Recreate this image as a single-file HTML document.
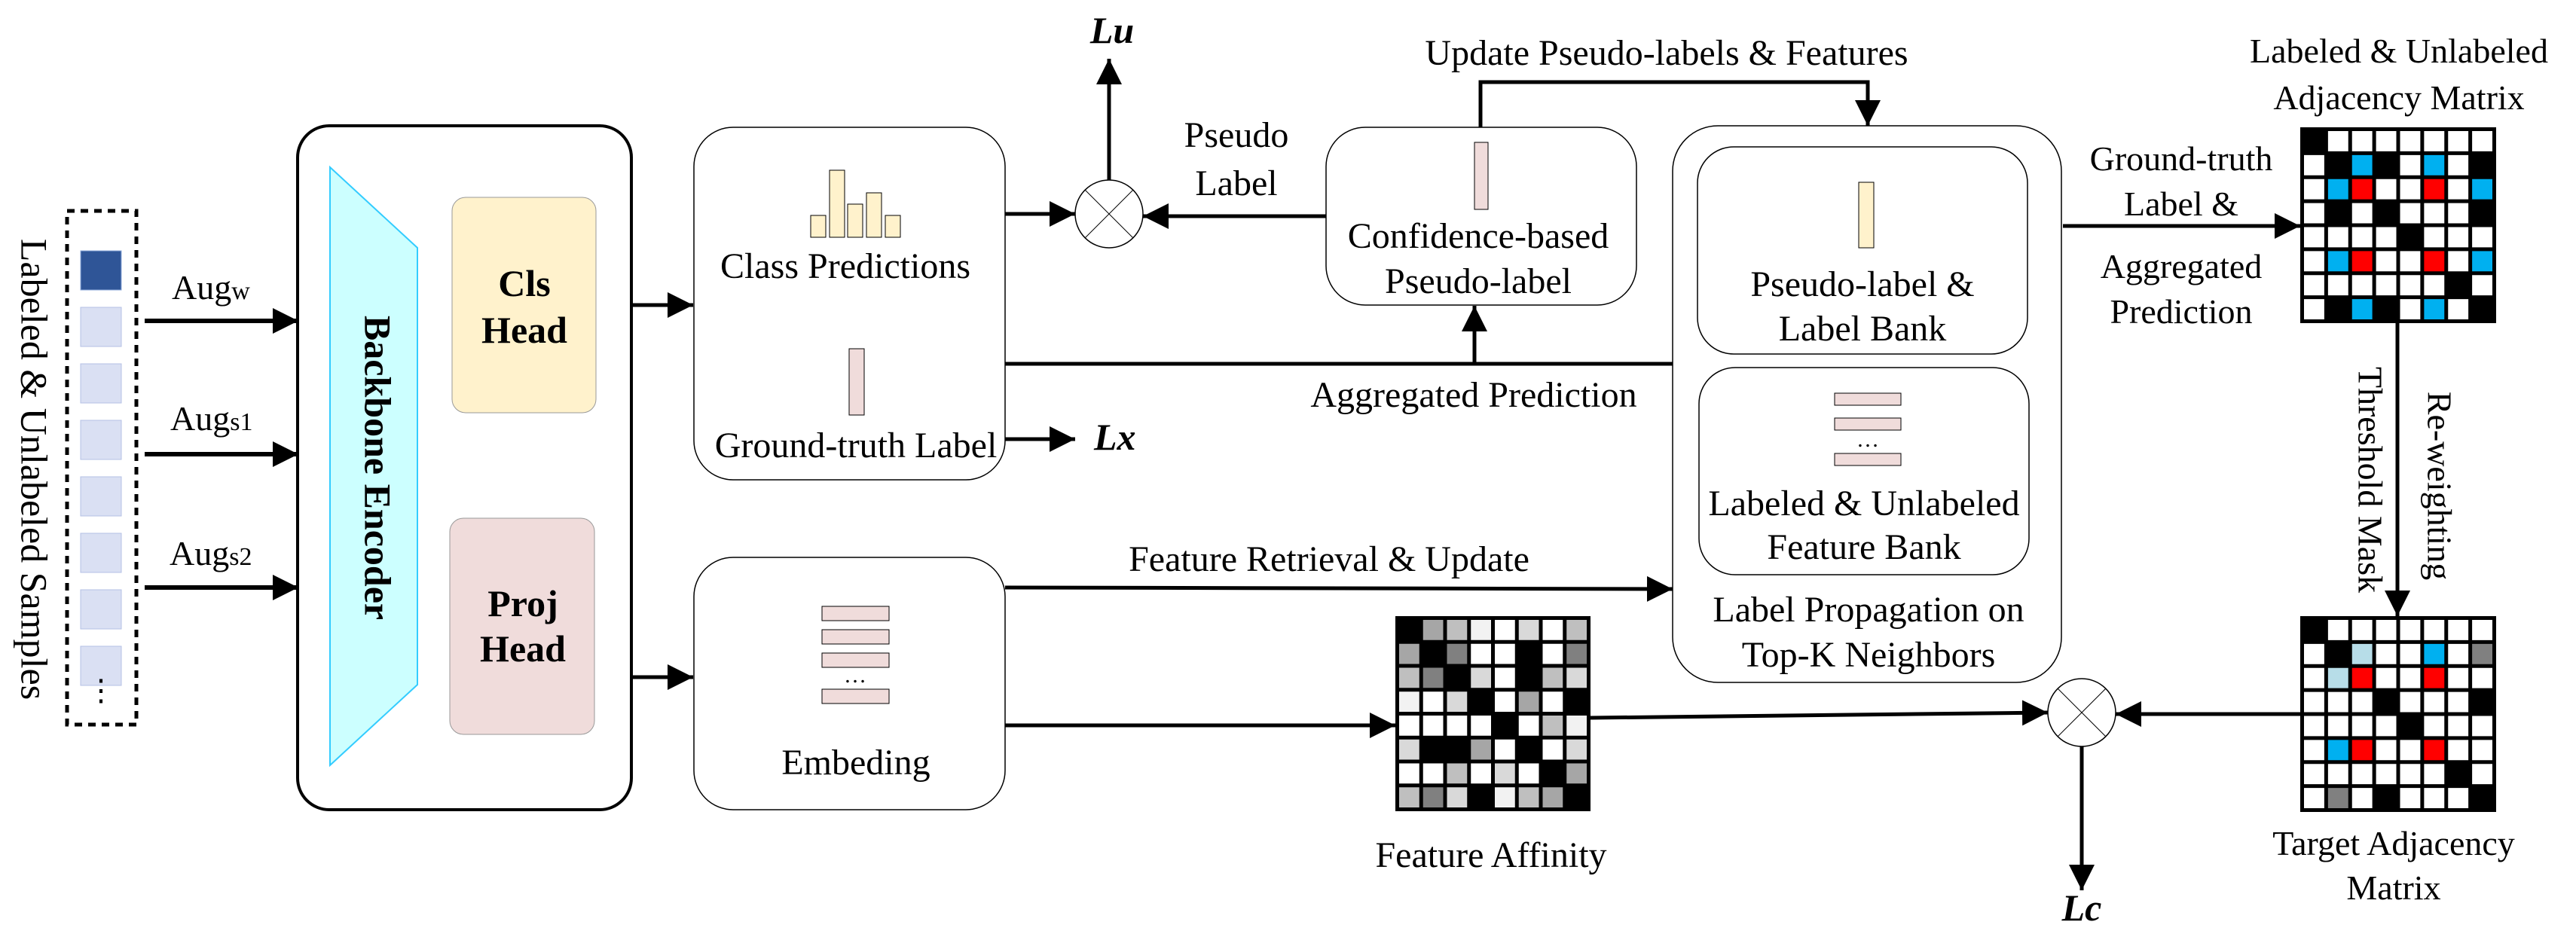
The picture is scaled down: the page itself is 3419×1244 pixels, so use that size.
<!DOCTYPE html>
<html><head><meta charset="utf-8"><style>
html,body{margin:0;padding:0;background:#fff;}
svg{display:block;}
svg text{font-family:'Liberation Serif','Times New Roman',Times,serif !important;fill:#000;}
</style></head><body>
<svg width="3419" height="1244" viewBox="0 0 3419 1244" xmlns="http://www.w3.org/2000/svg" font-family="'Liberation Serif', 'Times New Roman', serif">
<defs>
<marker id="ah" markerUnits="userSpaceOnUse" markerWidth="36" markerHeight="36" refX="34" refY="17" orient="auto">
<path d="M0,0 L34,17 L0,34 Z" fill="#000"/>
</marker>
</defs>
<rect width="3419" height="1244" fill="#fff"/>

<!-- left samples -->
<text transform="translate(40,623) rotate(90)" font-size="50" text-anchor="middle" dominant-baseline="middle">Labeled &amp; Unlabeled Samples</text>
<rect x="89" y="280" width="92" height="682" fill="none" stroke="#000" stroke-width="5" stroke-dasharray="10,8"/>
<rect x="107" y="333" width="54" height="52" fill="#2f5597" stroke="#8eaadb" stroke-width="1"/>
<g fill="#dae0f3" stroke="#b4c0e4" stroke-width="1">
<rect x="107" y="408" width="54" height="52"/>
<rect x="107" y="483" width="54" height="52"/>
<rect x="107" y="558" width="54" height="52"/>
<rect x="107" y="633" width="54" height="52"/>
<rect x="107" y="708" width="54" height="52"/>
<rect x="107" y="783" width="54" height="52"/>
<rect x="107" y="858" width="54" height="52"/>
</g>
<text x="134" y="930" font-size="40" text-anchor="middle">⋮</text>

<!-- aug arrows -->
<g stroke="#000" stroke-width="6" marker-end="url(#ah)">
<line x1="192" y1="426" x2="396" y2="426"/>
<line x1="192" y1="603" x2="396" y2="603"/>
<line x1="192" y1="780" x2="396" y2="780"/>
</g>
<text x="228" y="397" font-size="46">Aug<tspan font-size="34">w</tspan></text>
<text x="226" y="571" font-size="46">Aug<tspan font-size="34">s1</tspan></text>
<text x="225" y="750" font-size="46">Aug<tspan font-size="34">s2</tspan></text>

<!-- backbone -->
<rect x="395" y="167" width="443" height="908" rx="42" fill="#fff" stroke="#000" stroke-width="4"/>
<polygon points="438,222 554,329 554,909 438,1016" fill="#ccffff" stroke="#33ccff" stroke-width="2"/>
<text transform="translate(496,621) rotate(90)" font-size="50" font-weight="bold" text-anchor="middle" dominant-baseline="middle">Backbone Encoder</text>
<rect x="600" y="262" width="191" height="286" rx="18" fill="#fff2cc" stroke="#999" stroke-width="1"/>
<text x="696" y="393" font-size="50" font-weight="bold" text-anchor="middle">Cls</text>
<text x="696" y="455" font-size="50" font-weight="bold" text-anchor="middle">Head</text>
<rect x="597" y="688" width="192" height="287" rx="18" fill="#f0dcdb" stroke="#999" stroke-width="1"/>
<text x="694" y="818" font-size="50" font-weight="bold" text-anchor="middle">Proj</text>
<text x="694" y="878" font-size="50" font-weight="bold" text-anchor="middle">Head</text>

<g stroke="#000" stroke-width="5" marker-end="url(#ah)">
<line x1="838" y1="405" x2="920" y2="405"/>
<line x1="838" y1="899" x2="920" y2="899"/>
</g>

<!-- class predictions box -->
<rect x="921" y="169" width="413" height="468" rx="52" fill="#fff" stroke="#000" stroke-width="1.5"/>
<g fill="#fff2cc" stroke="#000" stroke-width="1">
<rect x="1076" y="286" width="20" height="29"/>
<rect x="1101" y="226" width="20" height="89"/>
<rect x="1125" y="271" width="20" height="44"/>
<rect x="1150" y="256" width="20" height="59"/>
<rect x="1175" y="286" width="20" height="29"/>
</g>
<text x="1122" y="369" font-size="48" text-anchor="middle">Class Predictions</text>
<rect x="1127" y="463" width="20" height="88" fill="#f0dcdb" stroke="#000" stroke-width="1"/>
<text x="1136" y="607" font-size="48" text-anchor="middle">Ground-truth Label</text>

<!-- embedding box -->
<rect x="921" y="740" width="413" height="335" rx="52" fill="#fff" stroke="#000" stroke-width="1.5"/>
<g fill="#f0dcdb" stroke="#000" stroke-width="1">
<rect x="1091" y="805" width="89" height="19"/>
<rect x="1091" y="836" width="89" height="19"/>
<rect x="1091" y="867" width="89" height="19"/>
<rect x="1091" y="915" width="89" height="19"/>
</g>
<text x="1135" y="906" font-size="30" text-anchor="middle">…</text>
<text x="1136" y="1028" font-size="48" text-anchor="middle">Embeding</text>

<!-- Lu circle -->
<circle cx="1472" cy="284" r="45" fill="#fff" stroke="#000" stroke-width="1.5"/>
<line x1="1440" y1="252" x2="1504" y2="316" stroke="#000" stroke-width="1"/>
<line x1="1504" y1="252" x2="1440" y2="316" stroke="#000" stroke-width="1"/>
<g stroke="#000" stroke-width="5" marker-end="url(#ah)">
<line x1="1334" y1="284" x2="1427" y2="284"/>
<line x1="1472" y1="239" x2="1472" y2="78"/>
<line x1="1762" y1="287" x2="1517" y2="287"/>
<line x1="1334" y1="583" x2="1427" y2="583"/>
<line x1="1957" y1="483" x2="1957" y2="406"/>
<line x1="1334" y1="780" x2="2220" y2="782"/>
<line x1="1334" y1="963" x2="1852" y2="963"/>
<line x1="2111" y1="953" x2="2718" y2="946"/>
<line x1="3053" y1="948" x2="2808" y2="948"/>
<line x1="2763" y1="991" x2="2763" y2="1182"/>
<line x1="2738" y1="300" x2="3053" y2="300"/>
<line x1="3182" y1="429" x2="3182" y2="818"/>
<polyline points="1965,169 1965,109 2479,109 2479,167" fill="none"/>
</g>
<line x1="1334" y1="483" x2="2222" y2="483" stroke="#000" stroke-width="5"/>
<text x="1476" y="57" font-size="50" font-weight="bold" font-style="italic" text-anchor="middle">Lu</text>
<text x="1452" y="597" font-size="50" font-weight="bold" font-style="italic">Lx</text>
<text x="1641" y="195" font-size="48" text-anchor="middle">Pseudo</text>
<text x="1641" y="259" font-size="48" text-anchor="middle">Label</text>

<!-- confidence box -->
<rect x="1760" y="169" width="412" height="236" rx="52" fill="#fff" stroke="#000" stroke-width="1.5"/>
<rect x="1957" y="189" width="18" height="89" fill="#f0dcdb" stroke="#000" stroke-width="1"/>
<text x="1962" y="329" font-size="48" text-anchor="middle">Confidence-based</text>
<text x="1962" y="389" font-size="48" text-anchor="middle">Pseudo-label</text>
<text x="2212" y="86" font-size="48" text-anchor="middle">Update Pseudo-labels &amp; Features</text>
<text x="1956" y="540" font-size="48" text-anchor="middle">Aggregated Prediction</text>
<text x="1764" y="758" font-size="48" text-anchor="middle">Feature Retrieval &amp; Update</text>

<!-- LP box -->
<rect x="2220" y="167" width="516" height="739" rx="60" fill="#fff" stroke="#000" stroke-width="1.5"/>
<rect x="2253" y="195" width="438" height="275" rx="48" fill="#fff" stroke="#000" stroke-width="1.5"/>
<rect x="2467" y="242" width="20" height="87" fill="#fff2cc" stroke="#000" stroke-width="1"/>
<text x="2472" y="393" font-size="48" text-anchor="middle">Pseudo-label &amp;</text>
<text x="2472" y="452" font-size="48" text-anchor="middle">Label Bank</text>
<rect x="2255" y="488" width="438" height="275" rx="48" fill="#fff" stroke="#000" stroke-width="1.5"/>
<g fill="#f0dcdb" stroke="#000" stroke-width="1">
<rect x="2435" y="522" width="88" height="16"/>
<rect x="2435" y="555" width="88" height="16"/>
<rect x="2435" y="602" width="88" height="16"/>
</g>
<text x="2479" y="593" font-size="30" text-anchor="middle">…</text>
<text x="2474" y="684" font-size="48" text-anchor="middle">Labeled &amp; Unlabeled</text>
<text x="2474" y="742" font-size="48" text-anchor="middle">Feature Bank</text>
<text x="2480" y="825" font-size="48" text-anchor="middle">Label Propagation on</text>
<text x="2480" y="885" font-size="48" text-anchor="middle">Top-K Neighbors</text>

<!-- Lc circle -->
<circle cx="2763" cy="946" r="45" fill="#fff" stroke="#000" stroke-width="1.5"/>
<line x1="2731" y1="914" x2="2795" y2="978" stroke="#000" stroke-width="1"/>
<line x1="2795" y1="914" x2="2731" y2="978" stroke="#000" stroke-width="1"/>
<text x="2763" y="1222" font-size="50" font-weight="bold" font-style="italic" text-anchor="middle">Lc</text>

<text x="1979" y="1151" font-size="48" text-anchor="middle">Feature Affinity</text>

<!-- right labels -->
<text x="3184" y="83" font-size="46" text-anchor="middle">Labeled &amp; Unlabeled</text>
<text x="3184" y="145" font-size="46" text-anchor="middle">Adjacency Matrix</text>
<text x="2895" y="226" font-size="46" text-anchor="middle">Ground-truth</text>
<text x="2895" y="286" font-size="46" text-anchor="middle">Label &amp;</text>
<text x="2895" y="369" font-size="46" text-anchor="middle">Aggregated</text>
<text x="2895" y="429" font-size="46" text-anchor="middle">Prediction</text>
<text transform="translate(3141,637) rotate(90)" font-size="46" text-anchor="middle" dominant-baseline="middle">Threshold Mask</text>
<text transform="translate(3233,645) rotate(90)" font-size="46" text-anchor="middle" dominant-baseline="middle">Re-weighting</text>
<text x="3177" y="1135" font-size="46" text-anchor="middle">Target Adjacency</text>
<text x="3177" y="1194" font-size="46" text-anchor="middle">Matrix</text>

<!-- matrices -->
<g id="mats"></g>
<script>
(function(){
var ns="http://www.w3.org/2000/svg",g=document.getElementById("mats");
var C={K:"#000",W:"#fff",C:"#00b0f0",R:"#ff0000",L:"#b7dde8",G:"#808080",a:"#a6a6a6",b:"#bfbfbf",c:"#f2f2f2",d:"#d9d9d9",e:"#808080"};
function mat(x,y,w,h,rows){
 var bg=document.createElementNS(ns,"rect");
 bg.setAttribute("x",x);bg.setAttribute("y",y);bg.setAttribute("width",w);bg.setAttribute("height",h);bg.setAttribute("fill","#000");g.appendChild(bg);
 var pw=(w-5)/8,ph=(h-5)/8;
 for(var r=0;r<8;r++)for(var c=0;c<8;c++){
  var k=rows[r][c]; if(k==="K")continue;
  var e=document.createElementNS(ns,"rect");
  e.setAttribute("x",x+5+c*pw);e.setAttribute("y",y+5+r*ph);
  e.setAttribute("width",pw-5);e.setAttribute("height",ph-5);e.setAttribute("fill",C[k]);g.appendChild(e);
 }
}
mat(3053,169,260,260,["KWWWWWWW","WKCKWCWK","WCRWWRWC","WKWKWWWK","WWWWKWWW","WCRWWRWC","WWWWWWKW","WKCKWCWK"]);
mat(3053,818,260,260,["KWWWWWWW","WKLWWCWG","WLRWWRWW","WWWKWWWK","WWWWKWWW","WCRWWRWW","WWWWWWKW","WGWKWWWK"]);
mat(1852,818,259,259,["KabcWdWb","aKeWWKWe","beKdWKbd","cWdKWaWK","WWWWKWbc","dKKaWKWd","WWbWdWKa","bedKcbaK"]);
})();
</script>
</svg>
</body></html>
